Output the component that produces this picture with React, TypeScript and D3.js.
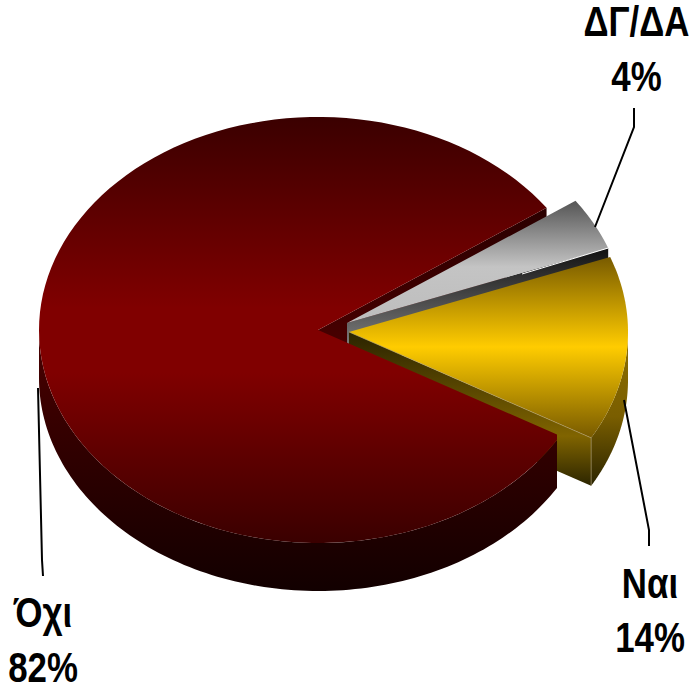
import React from "react";
import * as d3 from "d3";

const categories = ["ΔΓ/ΔΑ", "Ναι", "Όχι"];
const values = [4, 14, 82];
const percentLabels = ["4%", "14%", "82%"];
const centerX = [347, 349, 318];
const centerY = [323, 332, 330];

const RX = 279;
const RY = 213;
const DEPTH = 48;
const pie = d3.pie<number>().sort(null).startAngle((55 * Math.PI) / 180).endAngle((415 * Math.PI) / 180);
const arcs = pie(values);
const line = d3.line<[number, number]>();
const pt = (i: number, a: number, dy = 0): [number, number] => [
  centerX[i] + RX * Math.sin(a),
  centerY[i] - RY * Math.cos(a) + dy,
];
const arcPts = (i: number, a0: number, a1: number, dy = 0) =>
  d3.range(0, 1.0001, 1 / 120).map((t) => pt(i, a0 + (a1 - a0) * t, dy));
const apex = (i: number, dy = 0): [number, number] => [centerX[i], centerY[i] + dy];

const topPath = (i: number) =>
  line([apex(i), ...arcPts(i, arcs[i].startAngle, arcs[i].endAngle)])! + "Z";
const wallPath = (i: number, a0: number, a1: number) =>
  line([...arcPts(i, a0, a1), ...arcPts(i, a1, a0, DEPTH)])! + "Z";
const cutPath = (i: number, a: number) =>
  line([apex(i), pt(i, a), pt(i, a, DEPTH), apex(i, DEPTH)])! + "Z";

const stops = (id: string, y1: number, y2: number, cols: [number, string][]) => (
  <linearGradient id={id} gradientUnits="userSpaceOnUse" x1="0" x2="0" y1={y1} y2={y2}>
    {cols.map(([o, c]) => (
      <stop key={o} offset={o} stopColor={c} />
    ))}
  </linearGradient>
);

const leaders: [number, number][][] = [
  [[634, 108], [634, 127], [595, 227]],
  [[649, 546], [649, 530], [624, 400]],
  [[43, 576], [42, 560], [38, 388]],
];

const labelPos = [
  { x: 636.5, y1: 36, y2: 91 },
  { x: 650, y1: 598, y2: 652 },
  { x: 43, y1: 627, y2: 682 },
];

export default function App() {
  const [g, y, r] = arcs;
  return (
    <svg width={690} height={685} style={{ position: "absolute", left: 0, top: 0, background: "#fff" }}>
      <defs>
        {stops("gTop", 204, 330, [[0, "#5a5a5a"], [0.5, "#c4c4c4"], [1, "#bcbcbc"]])}
        {stops("yTop", 258, 436, [[0, "#7a5c00"], [0.5, "#ffcc00"], [1, "#7a5c00"]])}
        {stops("rTop", 116, 543, [[0, "#3a0000"], [0.45, "#800000"], [0.6, "#800000"], [1, "#3a0000"]])}
        {stops("gCut", 252, 345, [[0, "#151515"], [1, "#7c7c7c"]])}
        {stops("yCut", 332, 488, [[0, "#2a2300"], [0.667, "#806400"], [1, "#282200"]])}
        {stops("yWall", 345, 488, [[0, "#8a6c00"], [0.5, "#7a5e00"], [1, "#282200"]])}
        {stops("rCut", 208, 345, [[0, "#2a0000"], [1, "#480000"]])}
        {stops("rWall", 340, 591, [[0, "#480000"], [1, "#120000"]])}
        <clipPath id="redClip">
          <rect x={0} y={0} width={557} height={685} />
        </clipPath>
      </defs>

      {/* Red cut face seen through the gap */}
      <path d={cutPath(2, r.endAngle)} fill="url(#rCut)" />

      {/* Grey slice */}
      <path d={cutPath(0, g.endAngle)} fill="url(#gCut)" />
      <path d={topPath(0)} fill="url(#gTop)" />
      <path d={line([pt(0, g.endAngle), [522, 274]])!} stroke="#fff" strokeWidth={1} fill="none" />

      {/* Yellow slice */}
      <path d={cutPath(1, y.endAngle)} fill="url(#yCut)" />
      <path d={wallPath(1, Math.PI / 2, y.endAngle)} fill="url(#yWall)" />
      <path d={topPath(1)} fill="url(#yTop)" />
      <path
        d={line([apex(1), pt(1, y.endAngle), pt(1, y.endAngle, DEPTH)])!}
        stroke="#b0a070"
        strokeWidth={0.6}
        fill="none"
      />

      {/* Red slice */}
      <g clipPath="url(#redClip)">
        <path d={wallPath(2, r.startAngle, (3 * Math.PI) / 2)} fill="url(#rWall)" />
        <path d={topPath(2)} fill="url(#rTop)" />
      </g>

      {leaders.map((l, i) => (
        <path key={i} d={line(l)!} fill="none" stroke="#000" strokeWidth={2} />
      ))}

      {categories.map((c, i) => (
        <g
          key={c}
          fontFamily="'Liberation Sans', Arial, sans-serif"
          fontWeight="bold"
          fontSize={42}
          textAnchor="middle"
          fill="#000"
        >
          <text transform={`translate(${labelPos[i].x},${labelPos[i].y1}) scale(0.83,1)`}>{c}</text>
          <text transform={`translate(${labelPos[i].x},${labelPos[i].y2}) scale(0.83,1)`}>{percentLabels[i]}</text>
        </g>
      ))}
    </svg>
  );
}
